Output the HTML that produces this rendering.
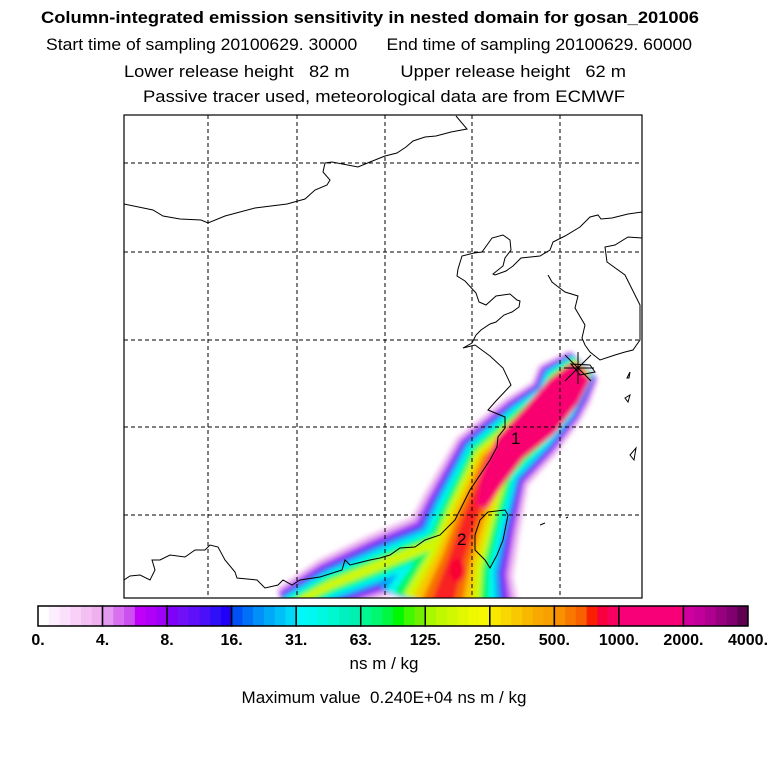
<!DOCTYPE html>
<html><head><meta charset="utf-8">
<style>html,body{margin:0;padding:0;background:#fff}svg{display:block;font-family:"Liberation Sans",sans-serif}text{white-space:pre}</style>
</head><body>
<svg id="chart" width="768" height="768" viewBox="0 0 768 768" xml:space="preserve">
<g font-size="17" text-anchor="middle">
<text x="370" y="23" font-weight="bold" textLength="658" lengthAdjust="spacingAndGlyphs">Column-integrated emission sensitivity in nested domain for gosan_201006</text>
<text x="369" y="50" textLength="646" lengthAdjust="spacingAndGlyphs">Start time of sampling 20100629. 30000      End time of sampling 20100629. 60000</text>
<text x="375" y="77" textLength="502" lengthAdjust="spacingAndGlyphs">Lower release height   82 m          Upper release height   62 m</text>
<text x="384" y="102" textLength="482" lengthAdjust="spacingAndGlyphs">Passive tracer used, meteorological data are from ECMWF</text>
</g>
<defs>
<clipPath id="mapclip"><rect x="124" y="115" width="518" height="483"/></clipPath>
<filter id="blur" x="-20%" y="-20%" width="140%" height="140%"><feGaussianBlur stdDeviation="2.5"/></filter>
</defs>
<g clip-path="url(#mapclip)"><g id="plume" filter="url(#blur)"></g></g>
<g id="grid" stroke="#000" stroke-width="1" stroke-dasharray="4,3"></g>
<g id="coast" fill="none" stroke="#000" stroke-width="1" clip-path="url(#mapclip)"></g>
<g stroke="#000" stroke-width="1">
<line x1="565" y1="355" x2="591" y2="381"/><line x1="591" y1="355" x2="565" y2="381"/><line x1="578" y1="352" x2="578" y2="384"/><line x1="564" y1="368" x2="594" y2="368"/>
</g>
<text x="511" y="444" font-size="17">1</text>
<text x="457" y="545" font-size="17">2</text>
<rect x="124" y="115" width="518" height="483" fill="none" stroke="#000" stroke-width="1.2"/>
<g id="cbar"></g>
<text x="384" y="669" font-size="17" text-anchor="middle">ns m / kg</text>
<text x="384" y="703" font-size="17" text-anchor="middle">Maximum value  0.240E+04 ns m / kg</text>
</svg>
<script>
const levelLabels=["0.","4.","8.","16.","31.","63.","125.","250.","500.","1000.","2000.","4000."];
const segColors=[
 ["#ffffff","#fdeefd","#fbe0fb","#f8d0f8","#f4c0f4","#f0b0f0"],
 ["#e49af0","#d870f0","#cc50f0","#c000f8","#b000f8","#a000f8"],
 ["#8000f8","#7010f8","#6010f8","#4c10f8","#3010f8","#2000f8"],
 ["#0050f8","#0070f8","#0090f8","#00a8f8","#00c0f8","#00d8f8"],
 ["#00f8f8","#00f8f0","#00f8e0","#00f8d0","#00f0c0","#00f0b0"],
 ["#00f890","#00f870","#00f840","#00f800","#40f800","#70f000"],
 ["#a8f800","#c0f800","#d0f800","#e0f800","#f0f800","#f8f800"],
 ["#f8e800","#f8d800","#f8c800","#f8b800","#f8a800","#f8a000"],
 ["#f89000","#f87800","#f86000","#f82000","#f80040","#f80060"],
 ["#f80078","#f80078","#f80078","#f80078","#f80078","#f80078"],
 ["#d000a0","#c00098","#b00090","#980080","#800070","#600050"]
];
const bandColors=["#f0c0f0","#c060f0","#6020f8","#00a0f8","#00f8f0","#00f860","#d0f800","#f8c800","#f87000","#f82020"];
const bandFrac=[1.0,0.91,0.83,0.75,0.67,0.57,0.46,0.35,0.24,0.13];
const mainPath=[[581,368],[564,385],[556,402],[530,427],[492,462],[471,515],[456,560],[442,605]];
const mainHalfWidth=[17,27,26,33,38,47,55,80];
const corePath=[[580,372],[563,392],[540,420],[510,448],[492,480],[482,505]];
const coreHalfWidth=[11,17,18,15,10,4];
const westPath=[[462,525],[430,545],[380,565],[330,585],[290,606]];
const westHalfWidth=[25,28,27,23,17];
const westFrac=[1.0,0.85,0.72,0.58,0.45,0.3,0.16,0,0,0];
const ns="http://www.w3.org/2000/svg";
function mk(t,a,p){const e=document.createElementNS(ns,t);for(const k in a)e.setAttribute(k,a[k]);p.appendChild(e);return e;}
const pl=document.getElementById('plume');
function ribbon(pts,hw,f){
 const L=[],R=[];
 pts.forEach((p,i)=>{
  const a=pts[Math.max(0,i-1)],b=pts[Math.min(pts.length-1,i+1)];
  let dx=b[0]-a[0],dy=b[1]-a[1];const n=Math.hypot(dx,dy)||1;dx/=n;dy/=n;
  const w=hw[i]*f;
  L.push([p[0]-dy*w,p[1]+dx*w]);R.push([p[0]+dy*w,p[1]-dx*w]);
 });
 const all=L.concat(R.reverse());
 return all.map((p,i)=>(i?'L':'M')+p[0].toFixed(1)+','+p[1].toFixed(1)).join(' ')+'Z';
}
bandColors.forEach((c,i)=>{
 if(westFrac[i]>0){const w=mk('path',{d:ribbon(westPath,westHalfWidth,westFrac[i]),fill:c,stroke:c,'stroke-width':westFrac[i]*10,'stroke-linejoin':'round'},pl);
 
 }
 const m=mk('path',{d:ribbon(mainPath,mainHalfWidth,bandFrac[i]),fill:c,stroke:c,'stroke-width':bandFrac[i]*10,'stroke-linejoin':'round'},pl);
 
 
});
const core=mk('path',{d:ribbon(corePath,coreHalfWidth,1),fill:'#f80070',stroke:'#f80070','stroke-width':4,'stroke-linejoin':'round'},pl);


const hot=mk('ellipse',{cx:457,cy:570,rx:8,ry:12,fill:'#f80030'},pl);


const g=document.getElementById('grid');
const gridX=[208,297,385,472,560], gridY=[163,252,340,427,515];
gridX.forEach(x=>{const l=mk('line',{x1:x,y1:115,x2:x,y2:598},g);});
gridY.forEach(y=>{const l=mk('line',{x1:124,y1:y,x2:642,y2:y},g);});
const coasts=[
"M124,204 L153,210 L163,216 L180,219 L201,220 L208,223 L225,216 L255,208 L287,204 L305,199 L315,190 L327,185 L330,180 L323,172 L325,163 L332,162 L358,167 L370,162 L385,156 L397,153 L406,147 L413,141 L425,137 L436,136 L451,132 L467,129 L456,116",
"M642,212 L628,214 L612,218 L601,219 L598,215 L590,217 L580,227 L565,236 L553,242 L550,250 L540,256 L521,258 L513,266 L506,271 L495,275 L493,274 L503,266 L505,258 L511,250 L510,240 L503,235 L492,238 L482,252 L474,253 L462,256 L458,269 L457,276 L465,281 L476,293 L479,302 L486,305 L496,296 L510,294 L517,300 L520,301 L519,307 L512,312 L504,315 L496,322 L490,324 L481,330 L476,335 L472,343 L463,348 L475,345 L490,356 L503,368 L511,385 L495,402 L488,410 L505,417 L505,428 L498,437 L497,447 L490,460 L480,475 L470,490 L455,520 L440,535 L425,540 L415,547 L400,548 L390,555 L380,558 L370,560 L350,565 L345,560 L342,570 L320,577 L300,580 L292,585 L283,580 L278,585 L265,588 L257,580 L237,578 L235,572 L225,560 L218,547 L210,545 L205,550 L195,550 L185,557 L170,555 L160,560 L152,560 L155,570 L150,580 L140,575 L130,576 L124,580",
"M488,512 L505,510 L508,515 L503,540 L497,555 L490,568 L485,560 L475,550 L475,535 L480,520 Z",
"M642,238 L628,237 L615,245 L605,247 L607,262 L625,275 L630,285 L640,305 L640,340 L633,350 L625,352 L615,355 L600,360 L590,352 L585,345 L582,338 L585,325 L575,308 L578,296 L565,292 L557,286 L552,282 L548,275",
"M571,364 L590,365 L595,372 L580,375 Z",
"M627,378 L630,372 L629,378 Z","M625,398 L630,395 L628,402 Z","M630,455 L636,448 L634,460 Z","M540,525 L545,523","M566,518 L568,517"
];
const cg=document.getElementById('coast');
coasts.forEach(d=>{const p=mk('path',{d:d},cg);});
const cb=document.getElementById('cbar');
const cbX0=38,cbX1=748,cbY=606,cbH=20;
const segW=(cbX1-cbX0)/segColors.length;
segColors.forEach((cols,i)=>{
 cols.forEach((c,j)=>{const r=mk('rect',{x:cbX0+i*segW+j*segW/cols.length,y:cbY,width:segW/cols.length+0.5,height:cbH,fill:c},cb);
 
 });
 const b=mk('rect',{x:cbX0+i*segW,y:cbY,width:segW,height:cbH,fill:'none',stroke:'#000','stroke-width':1.5},cb);
 
 
});
levelLabels.forEach((t,i)=>{const tx=mk('text',{x:cbX0+i*segW,y:645,'font-size':16,'font-weight':'bold','text-anchor':'middle'},cb);
 tx.textContent=t;
 
 });
</script>
</body></html>
